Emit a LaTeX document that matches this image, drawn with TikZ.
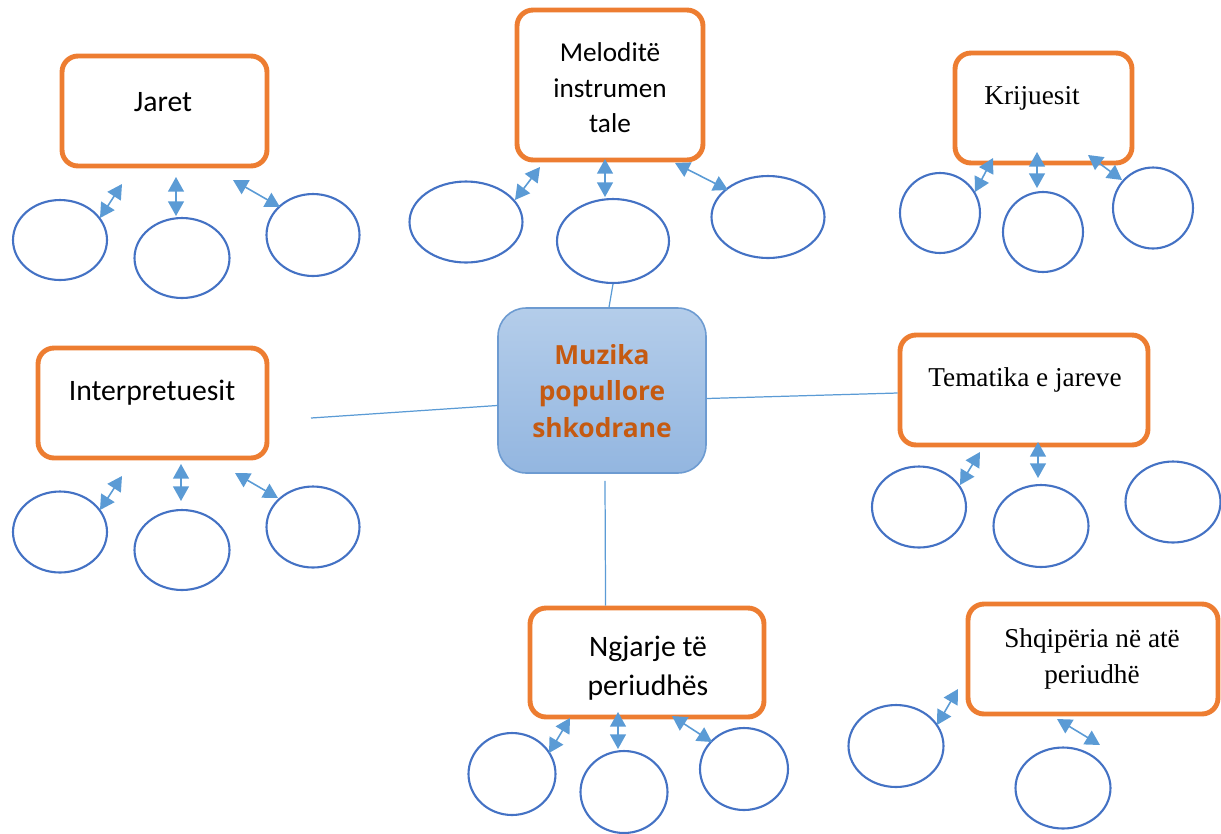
\documentclass[tikz,border=0pt]{standalone}
\usepackage{fontspec}
\setmainfont{Carlito}
\newfontfamily\serifface{Liberation Serif}
\newfontfamily\boldface{Open Sans}
\usetikzlibrary{shapes.geometric,arrows.meta,calc}
\definecolor{orangeB}{HTML}{ED7D31}
\definecolor{blueE}{HTML}{4472C4}
\definecolor{blueA}{HTML}{5B9BD5}
\definecolor{centerTop}{HTML}{B4CDEA}
\definecolor{centerBot}{HTML}{93B6E0}
\definecolor{centerLine}{HTML}{6D9BD1}
\definecolor{centerText}{HTML}{C55A11}
\tikzset{
  obox/.style={draw=orangeB, line width=2.8pt, rounded corners=0.32cm, fill=white, inner sep=0pt},
  oval/.style={ellipse, draw=blueE, line width=1.2pt, inner sep=0pt},
  dbl/.style={draw=blueA, line width=0.9pt, {Triangle[length=8.3pt,width=9pt]}-{Triangle[length=8.3pt,width=9pt]}},
  link/.style={draw=blueA, line width=0.7pt},
  sanstxt/.style={font=\fontsize{16.9}{20}\selectfont, align=center, inner sep=0pt},
  seriftxt/.style={font=\serifface\fontsize{15.5}{20}\selectfont, align=center, inner sep=0pt},
}
\begin{document}
\begin{tikzpicture}[x=0.02cm,y=-0.02cm]
\useasboundingbox (0,0) rectangle (1221,833);

% central box
\node[rounded corners=0.56cm, draw=centerLine, line width=0.9pt, top color=centerTop, bottom color=centerBot,
      minimum width=4.16cm, minimum height=3.3cm, inner sep=0pt] (c) at (602,390.5) {};
\node[font=\boldface\bfseries\fontsize{15}{20.7}\selectfont, text=centerText, align=center, inner sep=0pt] (ct) at (602,391) {Muzika\\popullore\\shkodrane};

% Jaret
\node[obox, minimum width=4.1cm, minimum height=2.2cm] (jb) at (164.5,111) {};
\node[sanstxt] (jt) at (163,102) {Jaret};
\node[oval, minimum width=1.88cm, minimum height=1.6cm] (j1) at (60,240) {};
\node[oval, minimum width=1.9cm, minimum height=1.6cm] (j2) at (182,258) {};
\node[oval, minimum width=1.86cm, minimum height=1.64cm] (j3) at (313,235) {};
\coordinate (j1a) at (122,184); \coordinate (j1b) at (100,218);
\coordinate (j2a) at (176,177); \coordinate (j2b) at (176,216);
\coordinate (j3a) at (233,180); \coordinate (j3b) at (280,207);
\draw[dbl] (j1a) -- (j1b);
\draw[dbl] (j2a) -- (j2b);
\draw[dbl] (j3a) -- (j3b);

% Melodite
\node[obox, minimum width=3.72cm, minimum height=3.0cm] (mb) at (610,85) {};
\node[sanstxt, font=\fontsize{15.5}{20.2}\selectfont] (mt) at (610,88) {Meloditë\\instrumen\\tale};
\node[oval, minimum width=2.26cm, minimum height=1.62cm] (m1) at (466,222) {};
\node[oval, minimum width=2.24cm, minimum height=1.68cm] (m2) at (613,241) {};
\node[oval, minimum width=2.26cm, minimum height=1.64cm] (m3) at (768,217) {};
\coordinate (m1a) at (540,167); \coordinate (m1b) at (515,200);
\coordinate (m2a) at (605,159); \coordinate (m2b) at (605,197);
\coordinate (m3a) at (675,163); \coordinate (m3b) at (728,190);
\draw[dbl] (m1a) -- (m1b);
\draw[dbl] (m2a) -- (m2b);
\draw[dbl] (m3a) -- (m3b);

% Krijuesit
\node[obox, minimum width=3.54cm, minimum height=2.2cm] (kb) at (1043.5,108) {};
\node[seriftxt] (kt) at (1032,98) {Krijuesit};
\node[oval, minimum width=1.6cm, minimum height=1.6cm] (k1) at (940,213) {};
\node[oval, minimum width=1.6cm, minimum height=1.6cm] (k2) at (1043,232) {};
\node[oval, minimum width=1.6cm, minimum height=1.62cm] (k3) at (1153,208) {};
\coordinate (k1a) at (993,158); \coordinate (k1b) at (975,192);
\coordinate (k2a) at (1037,152); \coordinate (k2b) at (1037,188);
\coordinate (k3a) at (1088,155); \coordinate (k3b) at (1122,180);
\draw[dbl] (k1a) -- (k1b);
\draw[dbl] (k2a) -- (k2b);
\draw[dbl] (k3a) -- (k3b);

% Interpretuesit
\node[obox, minimum width=4.58cm, minimum height=2.2cm] (ib) at (152.5,403) {};
\node[sanstxt] (it) at (152,393) {Interpretuesit};
\node[oval, minimum width=1.88cm, minimum height=1.62cm] (i1) at (60,532) {};
\node[oval, minimum width=1.9cm, minimum height=1.6cm] (i2) at (182,550) {};
\node[oval, minimum width=1.86cm, minimum height=1.62cm] (i3) at (313,527) {};
\coordinate (i1a) at (122,476); \coordinate (i1b) at (100,510);
\coordinate (i2a) at (181,464); \coordinate (i2b) at (181,501);
\coordinate (i3a) at (235,473); \coordinate (i3b) at (278,498);
\draw[dbl] (i1a) -- (i1b);
\draw[dbl] (i2a) -- (i2b);
\draw[dbl] (i3a) -- (i3b);

% Tematika
\node[obox, minimum width=4.96cm, minimum height=2.2cm] (tb) at (1024,390) {};
\node[seriftxt] (tt) at (1025,380) {Tematika e jareve};
\node[oval, minimum width=1.88cm, minimum height=1.62cm] (t1) at (919,507) {};
\node[oval, minimum width=1.9cm, minimum height=1.64cm] (t2) at (1041,526) {};
\node[oval, minimum width=1.9cm, minimum height=1.62cm] (t3) at (1173,502) {};
\coordinate (t1a) at (980,452); \coordinate (t1b) at (960,485);
\coordinate (t2a) at (1038,442); \coordinate (t2b) at (1038,478);
\draw[dbl] (t1a) -- (t1b);
\draw[dbl] (t2a) -- (t2b);

% Ngjarje
\node[obox, minimum width=4.68cm, minimum height=2.18cm] (nb) at (647,662.5) {};
\node[sanstxt, font=\fontsize{16.9}{22}\selectfont] (nt) at (648,668) {Ngjarje të\\periudhës};
\node[oval, minimum width=1.74cm, minimum height=1.64cm] (n1) at (512,774) {};
\node[oval, minimum width=1.74cm, minimum height=1.64cm] (n2) at (624,792) {};
\node[oval, minimum width=1.76cm, minimum height=1.64cm] (n3) at (744,769) {};
\coordinate (n1a) at (570,718); \coordinate (n1b) at (549,753);
\coordinate (n2a) at (618,712); \coordinate (n2b) at (618,749);
\coordinate (n3a) at (672,716); \coordinate (n3b) at (712,742);
\draw[dbl] (n1a) -- (n1b);
\draw[dbl] (n2a) -- (n2b);
\draw[dbl] (n3a) -- (n3b);

% Shqiperia
\node[obox, minimum width=5.0cm, minimum height=2.2cm] (sb) at (1093,659) {};
\node[seriftxt, font=\serifface\fontsize{15.5}{20}\selectfont] (st) at (1092,659) {Shqipëria në atë\\periudhë};
\node[oval, minimum width=1.9cm, minimum height=1.64cm] (s1) at (896,746) {};
\node[oval, minimum width=1.9cm, minimum height=1.62cm] (s2) at (1063,788) {};
\coordinate (s1a) at (958,689); \coordinate (s1b) at (937,725);
\coordinate (s2a) at (1057,719); \coordinate (s2b) at (1100,745);
\draw[dbl] (s1a) -- (s1b);
\draw[dbl] (s2a) -- (s2b);

% connectors to centre
\coordinate (lfree) at (311,418);
\draw[link] (m2.south) -- ($(c.north)+(7,0)$);
\draw[link] (lfree) -- ($(c.west)+(0,15)$);
\draw[link] ($(c.east)+(0,8)$) -- ($(tb.west)+(0,3)$);
\draw[link] ($(c.south)+(3,7)$) -- ($(nb.north west)+(78,0)$);
\end{tikzpicture}
\end{document}
